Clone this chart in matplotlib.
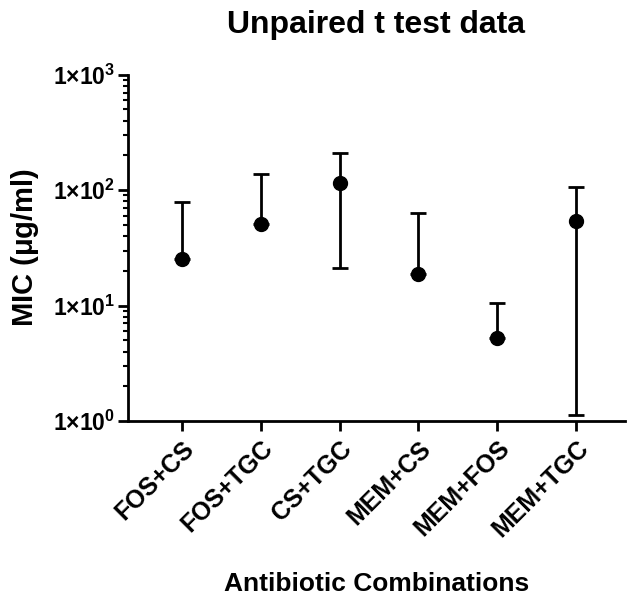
import matplotlib
matplotlib.use("Agg")
import matplotlib.pyplot as plt
import matplotlib.ticker as mticker
import numpy as np

plt.rcParams['font.family'] = ['Liberation Sans', 'DejaVu Sans']
plt.rcParams['font.weight'] = 'bold'
plt.rcParams['mathtext.fontset'] = 'custom'
plt.rcParams['mathtext.rm'] = 'Liberation Sans:bold'
plt.rcParams['mathtext.it'] = 'Liberation Sans:bold'
plt.rcParams['mathtext.bf'] = 'Liberation Sans:bold'
plt.rcParams['mathtext.default'] = 'rm'

categories = ["FOS+CS", "FOS+TGC", "CS+TGC", "MEM+CS", "MEM+FOS", "MEM+TGC"]
mic_values = [25.5, 51, 116, 18.9, 5.2, 54.5]
lower_bound = [25.5, 51, 21.3, 18.9, 5.2, 1.12]
upper_bound = [79, 139, 211, 63, 10.6, 107]

fig = plt.figure(figsize=(6.3, 5.98), dpi=100)
ax = fig.add_axes([0.203, 0.296, 0.789, 0.579])

x = np.arange(len(categories))
vals = np.array(mic_values)
yerr = np.array([vals - np.array(lower_bound), np.array(upper_bound) - vals])
ax.errorbar(x, vals, yerr=yerr, fmt='o', color='black', markersize=10,
            elinewidth=2, capsize=6, capthick=2, zorder=3)

ax.set_yscale('log')
ax.set_ylim(1, 1000)
ax.set_xlim(-0.685, 5.62)
ax.yaxis.set_major_locator(mticker.LogLocator(base=10, numticks=10))
ax.yaxis.set_minor_locator(mticker.LogLocator(base=10, subs=np.arange(2, 10), numticks=10))
ax.yaxis.set_minor_formatter(mticker.NullFormatter())
ax.yaxis.set_major_formatter(mticker.FuncFormatter(
    lambda v, p: r'$1{\times}10^{%d}$' % int(round(np.log10(v)))))

ax.set_xticks(x)
ax.set_xticklabels(categories, rotation=45, ha='right', rotation_mode='anchor',
                   fontsize=18, fontweight='bold')

for s in ['top', 'right']:
    ax.spines[s].set_visible(False)
for s in ['left', 'bottom']:
    ax.spines[s].set_linewidth(2)

ax.tick_params(axis='both', which='major', direction='out', length=7, width=2)
ax.tick_params(axis='y', which='major', labelsize=16.5, pad=2)
ax.tick_params(axis='y', which='minor', direction='out', length=3.5, width=1.5)
ax.tick_params(axis='x', pad=4)

ax.set_title('Unpaired t test data', fontsize=23, fontweight='bold', pad=30)
ax.set_ylabel(r'MIC ($\mathregular{\mu}$g/ml)', fontsize=21, fontweight='bold', labelpad=9)
ax.set_xlabel('Antibiotic Combinations', fontsize=19, fontweight='bold', labelpad=22)

fig.savefig('out.png', dpi=100)
